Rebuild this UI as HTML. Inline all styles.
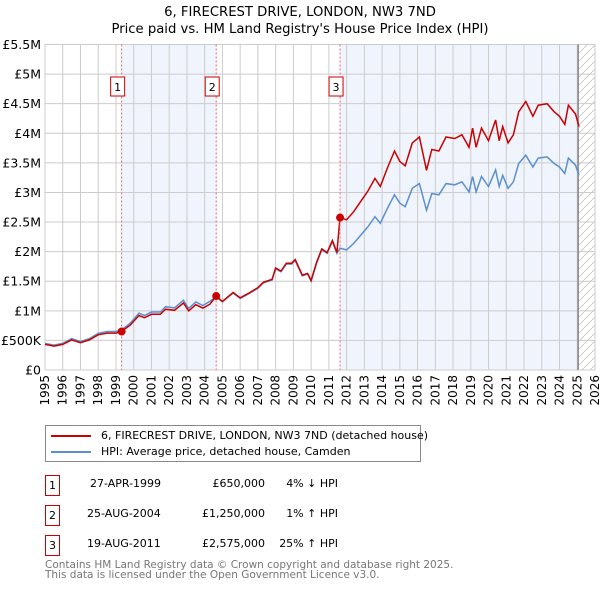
<!DOCTYPE html>
<html><head><meta charset="utf-8">
<style>
body{margin:0;background:#fff;font-family:"DejaVu Sans","Liberation Sans",sans-serif;}
#wrap{position:relative;width:600px;height:590px;overflow:hidden;}
.t{position:absolute;font-size:11px;color:#000;white-space:nowrap;}
.box{position:absolute;border:1px solid #c00;width:13px;height:19px;font-size:11px;text-align:center;line-height:19px;}
</style></head><body>
<div id="wrap">
<svg id="chart" width="600" height="420" style="position:absolute;left:0;top:0"></svg>
<div style="position:absolute;left:45px;top:425px;width:374px;height:35px;border:1px solid #888;">
 <div style="position:absolute;left:5px;top:3px;font-size:11px;white-space:nowrap"><span style="display:inline-block;width:40px;height:2px;background:#c00;vertical-align:middle;margin-right:10px"></span>6, FIRECREST DRIVE, LONDON, NW3 7ND (detached house)</div>
 <div style="position:absolute;left:5px;top:19px;font-size:11px;white-space:nowrap"><span style="display:inline-block;width:40px;height:2px;background:#5b8fd0;vertical-align:middle;margin-right:10px"></span>HPI: Average price, detached house, Camden</div>
</div>
<div class="box" style="left:45px;top:475px">1</div>
<div class="t" style="left:90px;top:477px">27-APR-1999</div>
<div class="t" style="left:185px;top:477px;width:80px;text-align:right">£650,000</div>
<div class="t" style="left:258px;top:477px;width:80px;text-align:right">4% ↓ HPI</div>
<div class="box" style="left:45px;top:505px">2</div>
<div class="t" style="left:87px;top:507px">25-AUG-2004</div>
<div class="t" style="left:185px;top:507px;width:80px;text-align:right">£1,250,000</div>
<div class="t" style="left:258px;top:507px;width:80px;text-align:right">1% ↑ HPI</div>
<div class="box" style="left:45px;top:535px">3</div>
<div class="t" style="left:87px;top:537px">19-AUG-2011</div>
<div class="t" style="left:185px;top:537px;width:80px;text-align:right">£2,575,000</div>
<div class="t" style="left:258px;top:537px;width:80px;text-align:right">25% ↑ HPI</div>
<div class="t" style="left:45px;top:561px;font-size:10.5px;color:#777;line-height:9.5px">Contains HM Land Registry data © Crown copyright and database right 2025.<br>This data is licensed under the Open Government Licence v3.0.</div>
</div>
<script>
const hpiYears=[1995,1995.5,1996,1996.5,1997,1997.5,1998,1998.5,1999,1999.32,1999.8,2000.3,2000.6,2001,2001.5,2001.8,2002.3,2002.8,2003.1,2003.5,2003.9,2004.3,2004.65,2005,2005.6,2006,2006.5,2007,2007.3,2007.8,2008,2008.3,2008.6,2008.9,2009.1,2009.5,2009.8,2010,2010.3,2010.6,2010.9,2011.2,2011.45,2011.63,2012,2012.4,2012.8,2013.2,2013.6,2013.9,2014.3,2014.7,2015,2015.3,2015.7,2016.1,2016.5,2016.8,2017.2,2017.6,2018.1,2018.5,2018.9,2019.1,2019.3,2019.6,2020,2020.4,2020.6,2020.8,2021.1,2021.4,2021.7,2022.1,2022.5,2022.8,2023.3,2023.7,2024,2024.3,2024.5,2024.9,2025.1];
const hpiValues=[0.45,0.42,0.45,0.53,0.48,0.53,0.62,0.65,0.65,0.677,0.79,0.96,0.92,0.98,0.98,1.07,1.05,1.18,1.04,1.15,1.09,1.16,1.24,1.15,1.30,1.21,1.29,1.38,1.47,1.52,1.71,1.66,1.79,1.79,1.85,1.59,1.62,1.50,1.80,2.03,1.97,2.17,1.97,2.06,2.03,2.14,2.28,2.42,2.59,2.48,2.73,2.96,2.82,2.76,3.07,3.15,2.70,2.98,2.96,3.15,3.13,3.18,3.01,3.27,3.01,3.27,3.10,3.38,3.10,3.29,3.07,3.18,3.49,3.63,3.43,3.58,3.60,3.49,3.43,3.32,3.58,3.46,3.29];
const saleYears=[1999.32,2004.65,2011.63];
const salePrices=[0.65,1.25,2.575];
const yTicks=[0,0.5,1,1.5,2,2.5,3,3.5,4,4.5,5,5.5];
const yTickLabels=["£0","£500K","£1M","£1.5M","£2M","£2.5M","£3M","£3.5M","£4M","£4.5M","£5M","£5.5M"];
const NS="http://www.w3.org/2000/svg";
const svg=document.getElementById('chart');
const X0=45,X1=595,Y0=370,Y1=44.5;
const xs=y=>X0+(y-1995)/(2026-1995)*(X1-X0);
const ys=v=>Y0-v/5.5*(Y0-Y1);
function mk(tag,attrs,parent){const e=document.createElementNS(NS,tag);for(const k in attrs)e.setAttribute(k,attrs[k]);(parent||svg).appendChild(e);return e;}
function interp(yr){for(let i=1;i<hpiYears.length;i++){if(yr<=hpiYears[i]){const t=(yr-hpiYears[i-1])/(hpiYears[i]-hpiYears[i-1]);return hpiValues[i-1]+t*(hpiValues[i]-hpiValues[i-1]);}}return hpiValues[hpiValues.length-1];}
const defs=mk('defs',{});
const pat=mk('pattern',{id:'hatch',width:8,height:8,patternUnits:'userSpaceOnUse'},defs);
mk('path',{d:'M0,8 L8,0',stroke:'#ccc','stroke-width':1},pat);
let r=mk('rect',{x:xs(saleYears[0]),y:Y1,width:xs(saleYears[1])-xs(saleYears[0]),height:Y0-Y1,fill:'#f0f4fc'});

r=mk('rect',{x:xs(saleYears[2]),y:Y1,width:xs(2025.05)-xs(saleYears[2]),height:Y0-Y1,fill:'#f0f4fc'});

r=mk('rect',{x:xs(2025.05),y:Y1,width:X1-xs(2025.05),height:Y0-Y1,fill:'url(#hatch)'});

for(let y=1995;y<=2026;y++){
 const l=mk('line',{x1:xs(y),x2:xs(y),y1:Y1,y2:Y0,stroke:'#ccc','stroke-width':1});
 
 const t=mk('text',{x:xs(y)+4,y:Y0+5,'font-size':12,'text-anchor':'end',transform:`rotate(-90 ${xs(y)+4} ${Y0+5})`});
 t.textContent=y;
}
yTicks.forEach((v,i)=>{
 const l=mk('line',{x1:X0,x2:X1,y1:ys(v),y2:ys(v),stroke:'#ccc','stroke-width':1});
 
 const t=mk('text',{x:X0-4,y:ys(v)+4.5,'font-size':12.5,'text-anchor':'end'});
 t.textContent=yTickLabels[i];
});
let l=mk('line',{x1:xs(2025.05),x2:xs(2025.05),y1:Y1,y2:Y0,stroke:'#888','stroke-width':1.5});

let d=hpiYears.map((y,i)=>(i?'L':'M')+xs(y).toFixed(1)+','+ys(hpiValues[i]).toFixed(1)).join(' ');
let p=mk('path',{d:d,fill:'none',stroke:'#5b8fd0','stroke-width':1.5});

const baseH=saleYears.map(interp);
function factor(yr){let k=0;for(let i=0;i<saleYears.length;i++)if(yr>=saleYears[i])k=i;return salePrices[k]/baseH[k];}
let pts=[];
hpiYears.forEach((y,i)=>{
 saleYears.forEach((s,k)=>{if(i>0&&hpiYears[i-1]<s&&y>s){pts.push([s,baseH[k]*factor(s-1e-6)]);pts.push([s,salePrices[k]]);}});
 pts.push([y,hpiValues[i]*factor(y)]);
});
d=pts.map((q,i)=>(i?'L':'M')+xs(q[0]).toFixed(1)+','+ys(q[1]).toFixed(1)).join(' ');
p=mk('path',{d:d,fill:'none',stroke:'#c00','stroke-width':1.5});

saleYears.forEach((s,k)=>{
 const ln=mk('line',{x1:xs(s),x2:xs(s),y1:Y1,y2:Y0,stroke:'#e66','stroke-width':1,'stroke-dasharray':'2,2'});
 
 const c=mk('circle',{cx:xs(s),cy:ys(salePrices[k]),r:4,fill:'#c00'});
 
 const bx=mk('rect',{x:xs(s)-11,y:77,width:14,height:19,fill:'#fff',stroke:'#c00','stroke-width':1});
 
 const t=mk('text',{x:xs(s)-4,y:91,'font-size':11,'text-anchor':'middle'});
 t.textContent=k+1;
});
const tt=[["6, FIRECREST DRIVE, LONDON, NW3 7ND",16],["Price paid vs. HM Land Registry's House Price Index (HPI)",33]];
tt.forEach((a,i)=>{const t=mk('text',{x:300,y:a[1],'font-size':13.2,'text-anchor':'middle'});t.textContent=a[0];
});
</script>
</body></html>
